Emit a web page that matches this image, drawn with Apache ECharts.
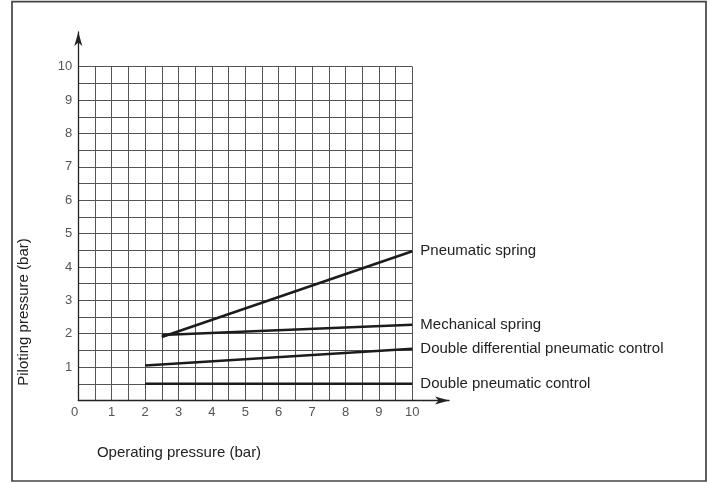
<!DOCTYPE html>
<html>
<head>
<meta charset="utf-8">
<script src="https://cdn.jsdelivr.net/npm/echarts@6/dist/echarts.min.js"></script>
<style>
html,body{margin:0;padding:0;background:#fff;}
#chart{width:712px;height:483px;}
</style>
</head>
<body>
<div id="chart"></div>
<script>
// ---- data ----
const seriesNames = ['Pneumatic spring', 'Mechanical spring', 'Double differential pneumatic control', 'Double pneumatic control'];
const pneumaticSpring = [[2.5, 1.9], [10, 4.47]];
const mechanicalSpring = [[2.5, 1.96], [10, 2.27]];
const doubleDifferential = [[2, 1.05], [10, 1.55]];
const doublePneumatic = [[2, 0.5], [10, 0.5]];
const xTitle = 'Operating pressure (bar)';
const yTitle = 'Piloting pressure (bar)';
const axisMin = 0, axisMax = 10, gridStep = 0.5;

const FONT = "'Liberation Sans', Arial, sans-serif";
const chart = echarts.init(document.getElementById('chart'), null, {renderer: 'canvas'});

const lineColor = '#1c1c1c';
const seriesData = [pneumaticSpring, mechanicalSpring, doubleDifferential, doublePneumatic];

const intLabel = v => (Math.abs(v - Math.round(v)) < 1e-6 ? String(Math.round(v)) : '');

const option = {
  backgroundColor: '#fff',
  animation: false,
  grid: [
    {left: 78.3, right: 299.7, top: 66.7, bottom: 82.5, containLabel: false},
    {left: 78.3, right: 263, top: 32, bottom: 82.5, containLabel: false}
  ],
  xAxis: [
    {
      type: 'value', gridIndex: 0, min: axisMin, max: axisMax, interval: gridStep,
      axisLine: {show: false}, axisTick: {show: false},
      axisLabel: {formatter: intLabel, color: '#555', fontFamily: FONT, fontSize: 13, margin: 5, alignMinLabel: 'right'},
      splitLine: {show: true, showMinLine: true, showMaxLine: true, lineStyle: {color: '#555', width: 1}}
    },
    {
      type: 'value', gridIndex: 1, min: 0, max: 1,
      axisLine: {show: true, onZero: false, symbol: ['none', 'arrow'], symbolSize: [6, 14], lineStyle: {color: '#222', width: 1.3}},
      axisTick: {show: false}, axisLabel: {show: false}, splitLine: {show: false}
    }
  ],
  yAxis: [
    {
      type: 'value', gridIndex: 0, min: axisMin, max: axisMax, interval: gridStep,
      axisLine: {show: false}, axisTick: {show: false},
      axisLabel: {formatter: v => (v === 0 ? '' : intLabel(v)), color: '#555', fontFamily: FONT, fontSize: 13, margin: 6},
      splitLine: {show: true, showMinLine: true, showMaxLine: true, lineStyle: {color: '#555', width: 1}}
    },
    {
      type: 'value', gridIndex: 1, min: 0, max: 1,
      axisLine: {show: true, onZero: false, symbol: ['none', 'arrow'], symbolSize: [6, 14], lineStyle: {color: '#222', width: 1.3}},
      axisTick: {show: false}, axisLabel: {show: false}, splitLine: {show: false}
    }
  ],
  graphic: [
    {type: 'rect', shape: {x: 12, y: 1.7, width: 694, height: 479.3}, style: {fill: 'none', stroke: '#444', lineWidth: 1.7}, silent: true},
    {type: 'text', x: 24, y: 312, rotation: Math.PI / 2, style: {text: yTitle, fill: '#222', font: '15px ' + FONT, align: 'center', verticalAlign: 'middle'}},
    {type: 'text', x: 179, y: 453, style: {text: xTitle, fill: '#222', font: '15px ' + FONT, align: 'center', verticalAlign: 'middle'}}
  ],
  series: seriesNames.map((name, i) => ({
    name: name,
    type: 'line',
    xAxisIndex: 0, yAxisIndex: 0,
    data: seriesData[i],
    showSymbol: false, symbol: 'none',
    lineStyle: {color: lineColor, width: 2.6},
    clip: false,
    endLabel: {show: true, formatter: '{a}', color: '#222', fontFamily: FONT, fontSize: 15, distance: 8}
  }))
};
chart.setOption(option);
</script>
</body>
</html>
